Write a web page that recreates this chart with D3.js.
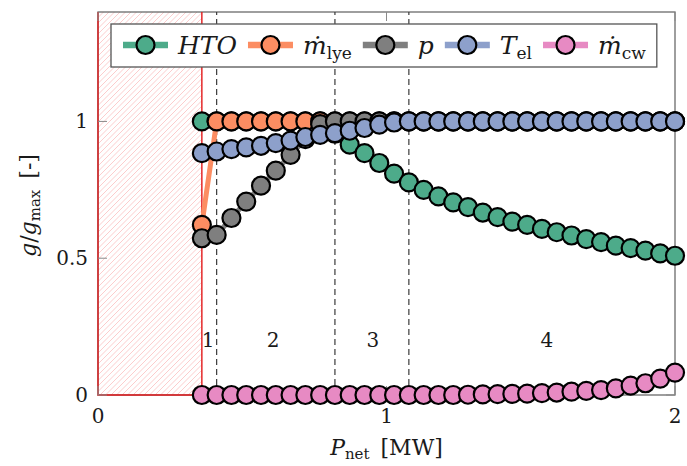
<!DOCTYPE html>
<html>
<head>
<meta charset="utf-8">
<script src="https://cdn.jsdelivr.net/npm/d3@7"></script>
<style>
  html, body { margin: 0; padding: 0; background: #fff; }
  svg { display: block; }
</style>
</head>
<body>
<svg id="chart" width="687" height="466" font-family="'DejaVu Serif', serif"></svg>
<script>
// Net power operating points [MW]
const pnet = [0.36, 0.41125, 0.4625, 0.51375, 0.565, 0.61625, 0.6675, 0.71875, 0.77,
  0.82125, 0.8725, 0.92375, 0.975, 1.02625, 1.0775, 1.12875, 1.18, 1.23125, 1.2825,
  1.33375, 1.385, 1.43625, 1.4875, 1.53875, 1.59, 1.64125, 1.6925, 1.74375, 1.795,
  1.84625, 1.8975, 1.94875, 2.0];

// Normalised quantities g/g_max
const hto = [1, 1, 1, 1, 1, 1, 1, 1, 1, 0.955, 0.915, 0.884, 0.848, 0.809, 0.777,
  0.75, 0.726, 0.704, 0.687, 0.667, 0.65, 0.634, 0.622, 0.607, 0.595, 0.583, 0.57,
  0.559, 0.546, 0.537, 0.528, 0.518, 0.509];
const mLye = [0.622, 1, 1, 1, 1, 1, 1, 1, 1, 1, 1, 1, 1, 1, 1, 1, 1, 1, 1, 1, 1, 1,
  1, 1, 1, 1, 1, 1, 1, 1, 1, 1, 1];
const pres = [0.573, 0.585, 0.647, 0.707, 0.765, 0.82, 0.878, 0.935, 0.99, 1, 1, 1,
  1, 1, 1, 1, 1, 1, 1, 1, 1, 1, 1, 1, 1, 1, 1, 1, 1, 1, 1, 1, 1];
const tEl = [0.884, 0.89, 0.899, 0.905, 0.911, 0.921, 0.93, 0.943, 0.951, 0.957,
  0.966, 0.976, 0.988, 0.996, 1, 1, 1, 1, 1, 1, 1, 1, 1, 1, 1, 1, 1, 1, 1, 1, 1, 1, 1];
const mCw = [0, 0, 0, 0, 0, 0, 0, 0, 0, 0, 0, 0, 0, 0, 0, 0, 0, 0, 0.001, 0.002,
  0.003, 0.004, 0.005, 0.007, 0.009, 0.012, 0.015, 0.018, 0.024, 0.034, 0.043,
  0.06, 0.082];

// Operating regions: infeasible zone below minimum load, then regions 1-4
const minLoad = 0.36;
const regionBounds = [0.41125, 0.82125, 1.0775];
const regionNames = ["1", "2", "3", "4"];
const regionLabelX = [0.382, 0.607, 0.953, 1.556];
const regionLabelY = 0.2;

const xTicks = [0, 1, 2];
const yTicks = [0, 0.5, 1];
const yTickLabels = ["0", "0.5", "1"];

const seriesNames = ["hto", "mLye", "p", "tEl", "mCw"];
const seriesValues = [hto, mLye, pres, tEl, mCw];
const seriesColors = ["#4dab8a", "#fc8d62", "#7f7f7f", "#8da0cb", "#e78ac3"];

const svg = d3.select("#chart");
const W = 687, H = 466;
const m = { left: 98, right: 12, top: 12, bottom: 71 };
const x = d3.scaleLinear().domain([0, 2]).range([m.left, W - m.right]);
const y = d3.scaleLinear().domain([0, 1.4]).range([H - m.bottom, m.top]);
const txt = "#1a1a1a";

// infeasible zone: diagonal hatching (rising to the right) clipped to the zone
const x0 = x(0), x1 = x(minLoad), yb = y(0), yt = y(1.4);
const zoneH = yb - yt;
svg.append("defs").append("clipPath").attr("id", "zoneClip")
  .append("rect").attr("x", x0).attr("y", yt).attr("width", x1 - x0).attr("height", zoneH);
const hatchStep = 5.5;
svg.append("g").attr("clip-path", "url(#zoneClip)")
  .selectAll("line")
  .data(d3.range(-zoneH, x1 - x0 + hatchStep, hatchStep))
  .join("line")
  .attr("x1", o => x0 + o).attr("y1", yb)
  .attr("x2", o => x0 + o + zoneH).attr("y2", yt)
  .attr("stroke", "#fbc4c4").attr("stroke-width", 0.85);

// axis frame
svg.append("rect")
  .attr("x", m.left).attr("y", m.top)
  .attr("width", W - m.left - m.right).attr("height", H - m.top - m.bottom)
  .attr("fill", "none").attr("stroke", "#6b6b6b").attr("stroke-width", 1.3);

// red border of infeasible zone
svg.append("path")
  .attr("d", `M${x0},${yt} L${x0},${yb} L${x1},${yb} L${x1},${yt}`)
  .attr("fill", "none").attr("stroke", "#e31a1c").attr("stroke-width", 1.4);

// ticks (inward, all four sides)
const tickLen = 9;
const tickG = svg.append("g").attr("stroke", "#8a8a8a").attr("stroke-width", 1);
xTicks.forEach(t => {
  tickG.append("line").attr("x1", x(t)).attr("x2", x(t)).attr("y1", yb).attr("y2", yb - tickLen);
  tickG.append("line").attr("x1", x(t)).attr("x2", x(t)).attr("y1", yt).attr("y2", yt + tickLen);
});
yTicks.forEach(t => {
  tickG.append("line").attr("x1", x(0)).attr("x2", x(0) + tickLen).attr("y1", y(t)).attr("y2", y(t));
  tickG.append("line").attr("x1", x(2)).attr("x2", x(2) - tickLen).attr("y1", y(t)).attr("y2", y(t));
});

// region boundaries
regionBounds.forEach(b => {
  svg.append("line")
    .attr("x1", x(b)).attr("x2", x(b)).attr("y1", yb).attr("y2", yt)
    .attr("stroke", "#3a3a3a").attr("stroke-width", 1.2)
    .attr("stroke-dasharray", "6,4");
});

// region labels
regionNames.forEach((n, i) => {
  svg.append("text")
    .attr("x", x(regionLabelX[i])).attr("y", y(regionLabelY) + 7)
    .attr("text-anchor", "middle").attr("fill", txt)
    .attr("font-size", 20).text(n);
});

// tick labels
yTicks.forEach((t, i) => {
  svg.append("text")
    .attr("x", x(0) - 10).attr("y", y(t) + 7)
    .attr("text-anchor", "end").attr("fill", txt)
    .attr("font-size", 20).text(yTickLabels[i]);
});
xTicks.forEach(t => {
  svg.append("text")
    .attr("x", x(t)).attr("y", yb + 28)
    .attr("text-anchor", "middle").attr("fill", txt)
    .attr("font-size", 20).text(String(t));
});

// axis titles
const xt = svg.append("text")
  .attr("x", (x(0) + x(2)) / 2).attr("y", 455)
  .attr("text-anchor", "middle").attr("font-size", 22).attr("fill", txt);
xt.append("tspan").attr("font-style", "italic").text("P");
xt.append("tspan").attr("font-size", 15).attr("dy", 4).text("net");
xt.append("tspan").attr("dy", -4).text("\u2002[MW]");

const yt2 = svg.append("text")
  .attr("transform", `translate(36,${(y(0) + y(1.4)) / 2 + 2}) rotate(-90)`)
  .attr("text-anchor", "middle").attr("font-size", 22).attr("fill", txt);
yt2.append("tspan").attr("font-style", "italic").text("g");
yt2.append("tspan").text("/");
yt2.append("tspan").attr("font-style", "italic").text("g");
yt2.append("tspan").attr("font-size", 15).attr("dy", 4).text("max");
yt2.append("tspan").attr("dy", -4).text("\u2002[-]");

// series: thick line plus outlined circle markers
const r = 9;
const line = d3.line().x((d, i) => x(pnet[i])).y(d => y(d));
seriesValues.forEach((vals, k) => {
  const g = svg.append("g").attr("class", "series-" + seriesNames[k]);
  g.append("path").attr("d", line(vals))
    .attr("fill", "none").attr("stroke", seriesColors[k]).attr("stroke-width", 5)
    .attr("stroke-linejoin", "round");
  g.selectAll("circle").data(vals).join("circle")
    .attr("cx", (d, i) => x(pnet[i])).attr("cy", d => y(d)).attr("r", r)
    .attr("fill", seriesColors[k]).attr("stroke", "#000").attr("stroke-width", 2.2);
});

// legend
const leg = svg.append("g");
const legBox = leg.append("rect")
  .attr("fill", "#fff").attr("stroke", "#555").attr("stroke-width", 1.3);
const legY = 45;
const legendLabels = [
  [{ t: "HTO", it: true }],
  [{ t: "\u1E41", it: true }, { t: "lye", sub: true }],
  [{ t: "p", it: true }],
  [{ t: "T", it: true }, { t: "el", sub: true }],
  [{ t: "\u1E41", it: true }, { t: "cw", sub: true }]
];
let cx = 123;
legendLabels.forEach((parts, k) => {
  leg.append("line").attr("x1", cx).attr("x2", cx + 45).attr("y1", legY).attr("y2", legY)
    .attr("stroke", seriesColors[k]).attr("stroke-width", 6.5);
  leg.append("circle").attr("cx", cx + 22.5).attr("cy", legY).attr("r", r)
    .attr("fill", seriesColors[k]).attr("stroke", "#000").attr("stroke-width", 2.2);
  const tx = leg.append("text").attr("x", cx + 55).attr("y", legY + 8.5)
    .attr("font-size", 25).attr("fill", txt);
  parts.forEach(p => {
    const ts = tx.append("tspan").text(p.t);
    if (p.it) ts.attr("font-style", "italic");
    if (p.sub) ts.attr("font-size", 17).attr("dy", 5);
  });
  const w = tx.node().getComputedTextLength();
  cx = cx + 55 + w + 11;
});
legBox.attr("x", 111).attr("y", 24).attr("width", cx - 111).attr("height", 43);
</script>
</body>
</html>
